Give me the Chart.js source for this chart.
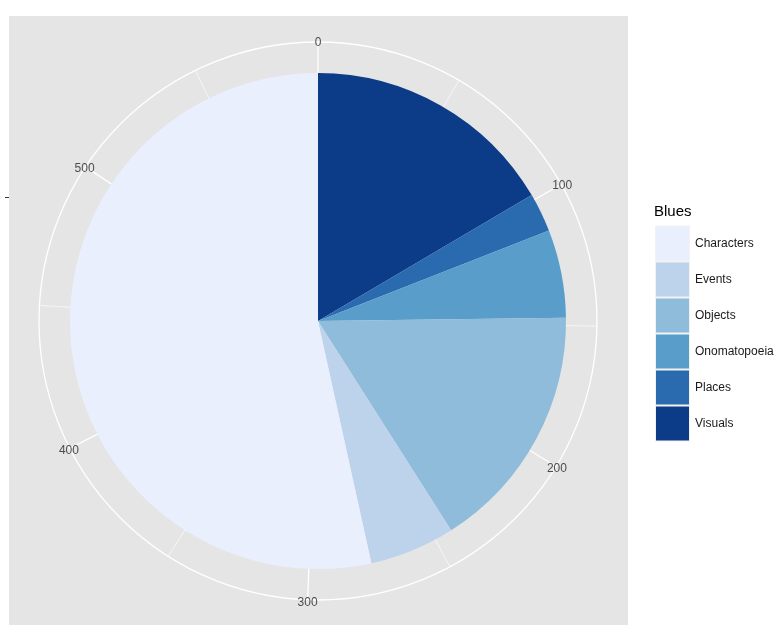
<!DOCTYPE html>
<html>
<head>
<meta charset="utf-8">
<script src="https://cdn.jsdelivr.net/npm/chart.js@4"></script>
<style>
html,body{margin:0;padding:0;background:#fff;}
#wrap{width:784px;height:625px;position:relative;}
</style>
</head>
<body>
<div id="wrap"><canvas id="c" width="784" height="625"></canvas></div>
<script>
// Data (stack order from 0 clockwise)
const categories = ["Visuals", "Places", "Onomatopoeia", "Objects", "Events", "Characters"];
const values = [98, 15, 34, 96, 33, 317];
const colors = ["#0c3c88", "#2a6aaf", "#599ecb", "#8ebcda", "#bdd2eb", "#e9effc"];
const legendLabels = ["Characters", "Events", "Objects", "Onomatopoeia", "Places", "Visuals"];
const legendTitle = "Blues";
const majorTicks = [0, 100, 200, 300, 400, 500];
const minorTicks = [50, 150, 250, 350, 450, 550];

const total = values.reduce((a, b) => a + b, 0);

const polarDecor = {
  id: 'polarDecor',
  beforeDatasetsDraw(chart) {
    const ctx = chart.ctx;
    const arc = chart.getDatasetMeta(0).data[0];
    const cx = arc.x, cy = arc.y, r = arc.outerRadius;
    const R = r * 279 / 248;
    ctx.save();
    // panel
    ctx.fillStyle = '#e5e5e5';
    ctx.fillRect(9, 16, 619, 609);
    // y-axis stray tick
    ctx.strokeStyle = '#333';
    ctx.lineWidth = 1;
    ctx.beginPath(); ctx.moveTo(5, 197.5); ctx.lineTo(9, 197.5); ctx.stroke();
    // outer circle
    ctx.strokeStyle = '#ffffff';
    ctx.lineWidth = 1.3;
    ctx.beginPath(); ctx.arc(cx, cy, R, 0, Math.PI * 2); ctx.stroke();
    // spokes
    const spoke = (v, w) => {
      const a = v / total * Math.PI * 2 - Math.PI / 2;
      ctx.lineWidth = w;
      ctx.beginPath();
      ctx.moveTo(cx, cy);
      ctx.lineTo(cx + R * Math.cos(a), cy + R * Math.sin(a));
      ctx.stroke();
    };
    majorTicks.forEach(v => spoke(v, 1.3));
    ctx.strokeStyle = 'rgba(255,255,255,0.8)';
    minorTicks.forEach(v => spoke(v, 0.8));
    ctx.restore();
  },
  afterDatasetsDraw(chart) {
    const ctx = chart.ctx;
    const arc = chart.getDatasetMeta(0).data[0];
    const cx = arc.x, cy = arc.y, r = arc.outerRadius;
    const R = r * 280 / 248;
    ctx.save();
    ctx.font = '12px "Liberation Sans", Arial, sans-serif';
    ctx.fillStyle = '#4d4d4d';
    ctx.textAlign = 'center';
    ctx.textBaseline = 'middle';
    majorTicks.forEach(v => {
      const a = v / total * Math.PI * 2 - Math.PI / 2;
      ctx.fillText(String(v), cx + R * Math.cos(a), cy + R * Math.sin(a) + 2);
    });
    // legend
    ctx.textAlign = 'left';
    ctx.fillStyle = '#000';
    ctx.font = '15px "Liberation Sans", Arial, sans-serif';
    ctx.fillText(legendTitle, 654, 212);
    ctx.font = '12px "Liberation Sans", Arial, sans-serif';
    legendLabels.forEach((lab, i) => {
      const idx = categories.indexOf(lab);
      const y = 225.5 + i * 36;
      ctx.fillStyle = '#f2f2f2';
      ctx.fillRect(655, y, 35, 36);
      ctx.fillStyle = colors[idx];
      ctx.fillRect(656, y + 1, 33, 34);
      ctx.fillStyle = '#1a1a1a';
      ctx.fillText(lab, 695, y + 18.5);
    });
    ctx.restore();
  }
};

new Chart(document.getElementById('c'), {
  type: 'pie',
  data: {
    labels: categories,
    datasets: [{
      data: values,
      backgroundColor: colors,
      borderWidth: 0
    }]
  },
  options: {
    responsive: false,
    animation: false,
    layout: { padding: { left: 70, right: 218, top: 73, bottom: 56 } },
    plugins: { legend: { display: false }, tooltip: { enabled: false } }
  },
  plugins: [polarDecor]
});
</script>
</body>
</html>
